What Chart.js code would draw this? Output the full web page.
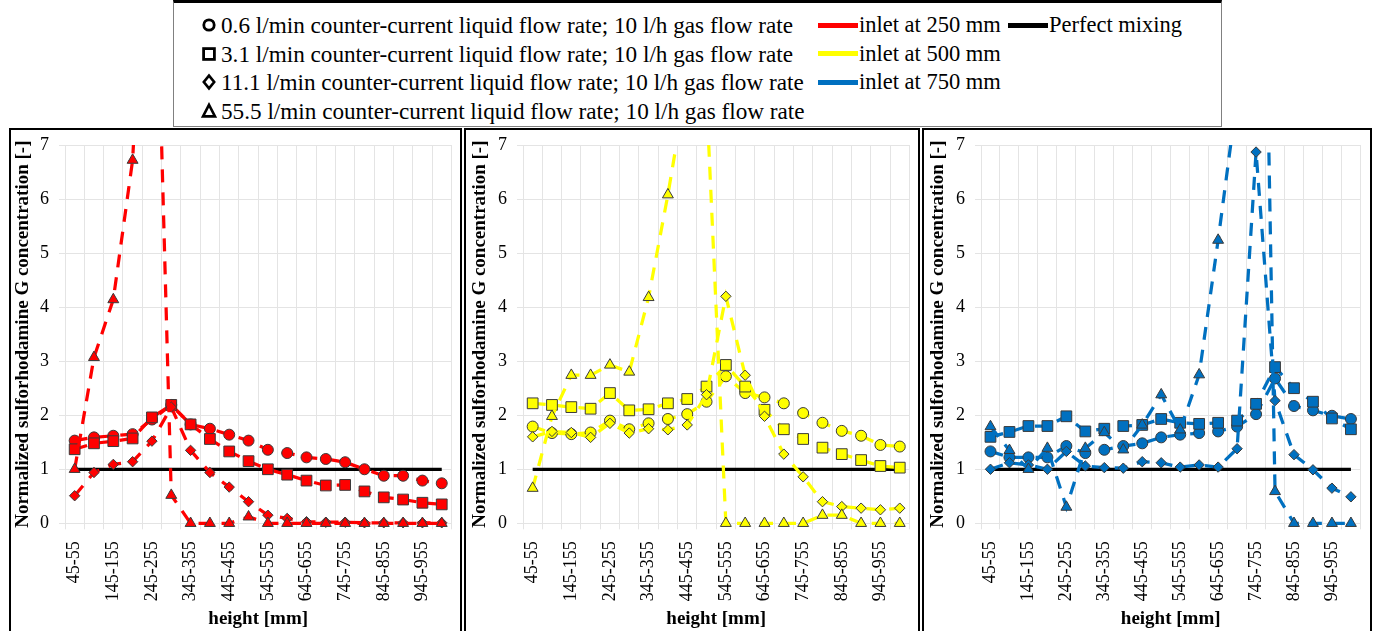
<!DOCTYPE html>
<html>
<head>
<meta charset="utf-8">
<script src="https://cdn.jsdelivr.net/npm/chart.js@4.4.1/dist/chart.umd.min.js"></script>
<style>
  html, body { margin: 0; padding: 0; background: #fff; }
  body { width: 1374px; height: 631px; position: relative; overflow: hidden;
         font-family: 'Liberation Serif', 'Times New Roman', serif; }
  #legend { position: absolute; left: 173px; top: 0; width: 1049px; height: 127px;
            border: 1px solid #808080; border-top: 3px solid #000; box-sizing: border-box; }
  .lg { position: absolute; font-size: 22.5px; line-height: 28px; height: 28px; white-space: nowrap; color: #000; }
  .lg.wide { font-size: 23.2px; }
  .sym { position: absolute; width: 18px; height: 18px; }
  .swatch { position: absolute; width: 40px; height: 5px; }
  .panel { position: absolute; top: 128px; height: 520px; border: 2px solid #000; box-sizing: border-box; }
  canvas { position: absolute; top: 130px; }
</style>
</head>
<body>

<div id="legend"></div>

<div class="panel" style="left:9px;width:453px;"></div>
<div class="panel" style="left:464px;width:456px;"></div>
<div class="panel" style="left:922px;width:450px;"></div>

<canvas id="p250" width="449" height="501" style="left:11px;"></canvas>
<canvas id="p500" width="450" height="501" style="left:468px;"></canvas>
<canvas id="p750" width="443" height="501" style="left:926px;"></canvas>

<script>
// Measurement heights (mm) along the column
const heights = ['45-55','95-105','145-155','195-205','245-255','295-305','345-355','395-405','445-455','495-505',
                 '545-555','595-605','645-655','695-705','745-755','795-805','845-855','895-905','945-955','995-1005'];

// Reference level for perfect mixing
const perfectMixing = [1,1,1,1,1,1,1,1,1,1,1,1,1,1,1,1,1,1,1,1];

// Flow-rate series names
const seriesNames = [
  '0.6 l/min counter-current liquid flow rate; 10 l/h gas flow rate',
  '3.1 l/min counter-current liquid flow rate; 10 l/h gas flow rate',
  '11.1 l/min counter-current liquid flow rate; 10 l/h gas flow rate',
  '55.5 l/min counter-current liquid flow rate; 10 l/h gas flow rate'
];
const inletNames = ['inlet at 250 mm', 'inlet at 500 mm', 'inlet at 750 mm'];
const mixingName = 'Perfect mixing';

// Inlet at 250 mm
const c250 = [1.53,1.59,1.62,1.65,1.92,2.19,1.83,1.75,1.64,1.53,1.36,1.30,1.22,1.19,1.13,1.00,0.88,0.88,0.79,0.74];
const s250 = [1.37,1.48,1.52,1.57,1.96,2.19,1.83,1.56,1.33,1.15,1.00,0.90,0.79,0.70,0.71,0.59,0.48,0.44,0.38,0.35];
const d250 = [0.51,0.94,1.09,1.14,1.52,2.15,1.35,0.94,0.67,0.40,0.15,0.09,0.03,0.02,0.02,0.01,0.01,0.01,0.01,0.01];
const t250 = [1.00,3.07,4.14,6.72,13.5,0.52,0,0,0,0.12,0,0,0,0,0,0,0,0,0,0];

// Inlet at 500 mm
const c500 = [1.79,1.67,1.65,1.68,1.90,1.74,1.85,1.93,2.02,2.25,2.72,2.41,2.33,2.22,2.04,1.86,1.71,1.62,1.45,1.42];
const s500 = [2.22,2.19,2.15,2.12,2.41,2.09,2.11,2.22,2.30,2.53,2.93,2.53,2.10,1.74,1.56,1.40,1.28,1.17,1.06,1.03];
const d500 = [1.60,1.70,1.68,1.59,1.85,1.67,1.75,1.73,1.82,2.38,4.20,2.74,1.98,1.28,0.86,0.40,0.31,0.28,0.25,0.28];
const t500 = [0.65,1.98,2.74,2.74,2.93,2.80,4.18,6.08,8.2,7.9,0,0,0,0,0,0.15,0.15,0,0,0];

// Inlet at 750 mm
const c750 = [1.33,1.22,1.22,1.22,1.43,1.30,1.36,1.43,1.48,1.59,1.64,1.67,1.70,1.79,2.02,2.68,2.17,2.09,1.99,1.93];
const s750 = [1.60,1.69,1.80,1.80,1.98,1.70,1.75,1.80,1.82,1.93,1.86,1.84,1.86,1.90,2.21,2.89,2.50,2.25,1.94,1.74];
const d750 = [1.00,1.12,1.08,1.00,1.33,1.06,1.03,1.02,1.14,1.12,1.04,1.08,1.04,1.38,6.87,2.27,1.27,0.99,0.65,0.49];
const t750 = [1.79,1.35,1.00,1.39,0.30,1.39,1.68,1.36,1.82,2.38,1.73,2.75,5.24,7.9,20,0.59,0,0,0,0];

const yTicks = [0,1,2,3,4,5,6,7];
const yTitle = 'Normalized sulforhodamine G concentration [-]';
const xTitle = 'height [mm]';

const colors = { red: '#FF0000', yellow: '#FFFF00', blue: '#0070C0' };

// ---------- legend (HTML) ----------
const legend = document.getElementById('legend');
const markerSvg = [
  '<circle cx="9" cy="9" r="5.2" fill="#fff" stroke="#000" stroke-width="2.8"/>',
  '<rect x="3.6" y="3.6" width="10.8" height="10.8" fill="#fff" stroke="#000" stroke-width="2.8"/>',
  '<polygon points="9,2.6 14.2,9 9,15.4 3.8,9" fill="#fff" stroke="#000" stroke-width="2.6"/>',
  '<polygon points="9,2.8 15,14.4 3,14.4" fill="#fff" stroke="#000" stroke-width="2.6" stroke-linejoin="miter"/>'
];
const rowY = [25, 53.5, 82, 110.5];
function addEl(html, cls, left, top, extraStyle) {
  const d = document.createElement('div');
  d.className = cls;
  d.style.left = left + 'px';
  d.style.top = top + 'px';
  if (extraStyle) d.style.cssText += extraStyle;
  d.innerHTML = html;
  legend.appendChild(d);
}
seriesNames.forEach((name, i) => {
  addEl('<svg width="18" height="18">' + markerSvg[i] + '</svg>', 'sym', 26, rowY[i] - 3 - 9);
  addEl(name, 'lg wide', 47, rowY[i] - 3 - 14);
});
[colors.red, colors.yellow, colors.blue].forEach((c, i) => {
  addEl('', 'swatch', 644, rowY[i] - 3 - 2.5, 'background:' + c + ';');
  addEl(inletNames[i], 'lg', 685, rowY[i] - 3 - 14);
});
addEl('', 'swatch', 834, rowY[0] - 3 - 2.5, 'background:#000;');
addEl(mixingName, 'lg', 875, rowY[0] - 3 - 14);

// ---------- panels ----------
const tickFont = { family: "'Liberation Serif', 'Times New Roman', serif", size: 18 };
const titleFont = { family: "'Liberation Serif', 'Times New Roman', serif", size: 19, weight: 'bold' };
const gridColor = '#e4e4e4';
const clipBox = { left: 12, top: 0, right: 12, bottom: 12 };

function series(label, data, color, style, radius, order) {
  return {
    label, data, order,
    borderColor: color, borderWidth: 3.25, borderDash: [13, 10],
    pointStyle: style, pointRadius: radius, pointHoverRadius: radius,
    pointBackgroundColor: color, pointBorderColor: '#3a3a3a', pointBorderWidth: 1,
    tension: 0, fill: false, clip: clipBox
  };
}

function makePanel(id, color, circ, sq, dia, tri, yWidth, rightPad) {
  new Chart(document.getElementById(id), {
    type: 'line',
    data: {
      labels: heights,
      datasets: [
        { label: mixingName, data: perfectMixing, borderColor: '#000', borderWidth: 3.25,
          pointRadius: 0, pointHoverRadius: 0, tension: 0, fill: false, order: 5, clip: clipBox },
        series(seriesNames[0], circ, color, 'circle', 5.5, 4),
        series(seriesNames[1], sq, color, 'rect', 7.6, 3),
        series(seriesNames[2], dia, color, 'rectRot', 5.2, 2),
        series(seriesNames[3], tri, color, 'triangle', 6.3, 1)
      ]
    },
    options: {
      responsive: false, animation: false, devicePixelRatio: 1,
      layout: { padding: { top: 15, right: rightPad, left: 0, bottom: 0 } },
      plugins: { legend: { display: false }, tooltip: { enabled: false } },
      scales: {
        x: {
          type: 'category', offset: true,
          grid: { offset: true, color: gridColor, lineWidth: 1, tickLength: 6, drawTicks: true },
          border: { display: false },
          ticks: {
            autoSkip: false, minRotation: 90, maxRotation: 90, padding: 12,
            font: tickFont, color: '#000',
            callback: (v, i) => (i % 2 === 0 ? heights[i] : '')
          },
          title: { display: true, text: xTitle, font: titleFont, color: '#000', padding: { top: 0, bottom: 1 } },
          afterFit: s => { s.height = 107.7; s.paddingLeft = 0; s.paddingRight = 0; }
        },
        y: {
          min: 0, max: 7,
          afterBuildTicks: s => { s.ticks = yTicks.map(v => ({ value: v })); },
          grid: { color: gridColor, lineWidth: 1, tickLength: 6 },
          border: { display: false },
          ticks: { padding: 10, font: tickFont, color: '#000' },
          title: { display: true, text: yTitle, font: titleFont, color: '#000', padding: { top: 1, bottom: 0 } },
          afterFit: s => { s.width = yWidth; s.paddingTop = 0; s.paddingBottom = 0; }
        }
      }
    }
  });
}

makePanel('p250', colors.red, c250, s250, d250, t250, 54, 8);
makePanel('p500', colors.yellow, c500, s500, d500, t500, 55, 7.6);
makePanel('p750', colors.blue, c750, s750, d750, t750, 55, 0.6);
</script>
</body>
</html>
